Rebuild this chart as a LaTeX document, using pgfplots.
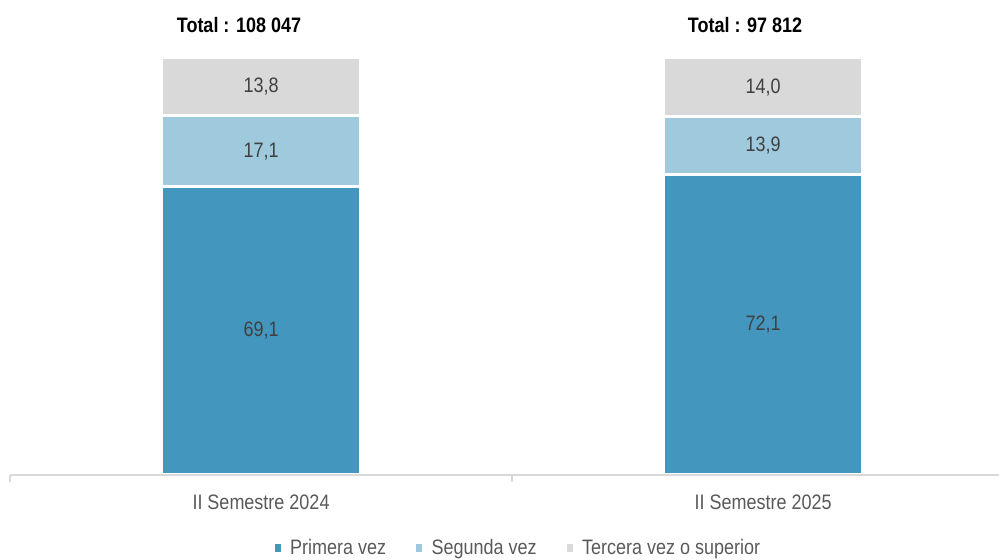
\documentclass[border=0pt]{standalone}
\usepackage{fontspec}
\setmainfont{Liberation Sans}[FakeStretch=0.86]
\usepackage{pgfplots}
\pgfplotsset{compat=1.18}
\definecolor{cPrim}{HTML}{4397BF}
\definecolor{cSeg}{HTML}{9FC9DD}
\definecolor{cTer}{HTML}{D9D9D9}
\definecolor{cLab}{HTML}{404040}
\definecolor{cTick}{HTML}{595959}
\begin{document}
\begin{tikzpicture}
\useasboundingbox (0,0) rectangle (999bp,560bp);
\begin{axis}[
  at={(10bp,85bp)}, anchor=south west,
  scale only axis, width=989bp, height=417bp,
  xmin=-0.5, xmax=1.470, ymin=0, ymax=100,
  clip=false, axis on top=true,
  ybar stacked, bar width=199bp,
  axis x line*=bottom, axis y line=none,
  x axis line style={cTer, line width=1.5bp},
  xtick={0,1}, xticklabels={II Semestre 2024, II Semestre 2025},
  major tick length=0pt,
  extra x ticks={-0.5,0.5}, extra x tick labels={},
  extra x tick style={tick align=outside, major tick length=7bp, tick style={cTer, line width=1.5bp}},
  ytick=\empty,
  xticklabel style={anchor=center, yshift=-27bp, font=\fontsize{21}{24}\selectfont, text=cTick},
  /pgf/number format/.cd, fixed, fixed zerofill, precision=1, use comma, assume math mode=true, 1000 sep={},
  /pgfplots/.cd,
  point meta=rawy,
  nodes near coords={\pgfmathprintnumber{\pgfplotspointmeta}},
  every node near coord/.append style={anchor=center, font=\fontsize{21}{24}\selectfont, text=cLab},
  legend style={at={(0.514,-0.175)}, anchor=center, draw=none, fill=none, legend columns=3,
    font=\fontsize{21}{24}\selectfont, text=cTick,
    /tikz/every even column/.append style={column sep=28bp}},
  legend image code/.code={\fill[#1, draw=none] (0bp,-4bp) rectangle (6bp,4bp); \path (12bp,0bp);},
]
\addplot[fill=cPrim, draw=white, line width=3bp] coordinates {(0,69.1) (1,72.1)};
\addplot[fill=cSeg, draw=white, line width=3bp] coordinates {(0,17.1) (1,13.9)};
\addplot[fill=cTer, draw=white, line width=3bp] coordinates {(0,13.8) (1,14.0)};
\legend{Primera vez, Segunda vez, Tercera vez o superior}
\node[font=\bfseries\fontsize{21}{24}\selectfont, text=black] at (axis cs:0,100) [xshift=-22bp, yshift=33bp] {Total : 108 047};
\node[font=\bfseries\fontsize{21}{24}\selectfont, text=black] at (axis cs:1,100) [xshift=-18bp, yshift=33bp] {Total : 97 812};
\end{axis}
\end{tikzpicture}
\end{document}
